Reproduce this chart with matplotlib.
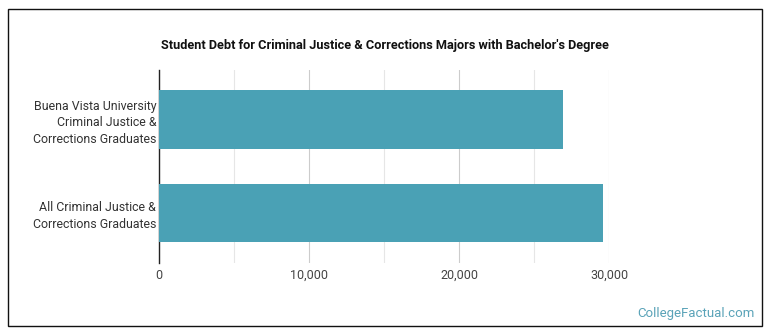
import matplotlib.pyplot as plt
from matplotlib.patches import Rectangle
from matplotlib.ticker import FuncFormatter, MultipleLocator

plt.rcParams['font.family'] = ['Roboto', 'DejaVu Sans']

labels = ["All Criminal Justice &\nCorrections Graduates",
          "Buena Vista University\nCriminal Justice &\nCorrections Graduates"]
debt = [29600, 26950]

fig = plt.figure(figsize=(7.7, 3.35), dpi=100)
ax = fig.add_axes([159 / 770, 1 - 263 / 335, 450 / 770, 193 / 335])

ax.barh(range(len(debt)), debt, height=0.63, color="#4aa1b5", zorder=3)
ax.set_yticks(range(len(debt)))
ax.set_yticklabels(labels, fontsize=8.9, color="#333333", linespacing=1.35)
ax.set_ylim(-0.535, 1.53)
ax.set_xlim(0, 30000)
ax.xaxis.set_major_locator(MultipleLocator(10000))
ax.xaxis.set_minor_locator(MultipleLocator(5000))
ax.xaxis.set_major_formatter(FuncFormatter(lambda v, p: f"{int(v):,}"))
ax.tick_params(axis="x", which="both", length=0, labelsize=9, labelcolor="#444444", pad=4)
ax.tick_params(axis="y", length=0, pad=2)
ax.grid(axis="x", which="major", color="#cccccc", lw=0.8, zorder=0)
ax.grid(axis="x", which="minor", color="#e6e6e6", lw=0.8, zorder=0)
for s in ["top", "right", "bottom"]:
    ax.spines[s].set_visible(False)
ax.spines["left"].set_color("#222222")
ax.spines["left"].set_linewidth(1)

fig.text(0.5, 1 - 45 / 335, "Student Debt for Criminal Justice & Corrections Majors with Bachelor's Degree",
         ha="center", va="center", fontsize=9.2, fontweight="bold", color="#111111")
fig.text(755 / 770, 1 - 313 / 335, "CollegeFactual.com", ha="right", va="center",
         fontsize=9.5, color="#5aa3b8")
fig.patches.append(Rectangle((8 / 770, 9 / 335), 754 / 770, 317 / 335, transform=fig.transFigure,
                             fill=False, edgecolor="#111111", lw=1))

fig.savefig("out.png", dpi=100)
